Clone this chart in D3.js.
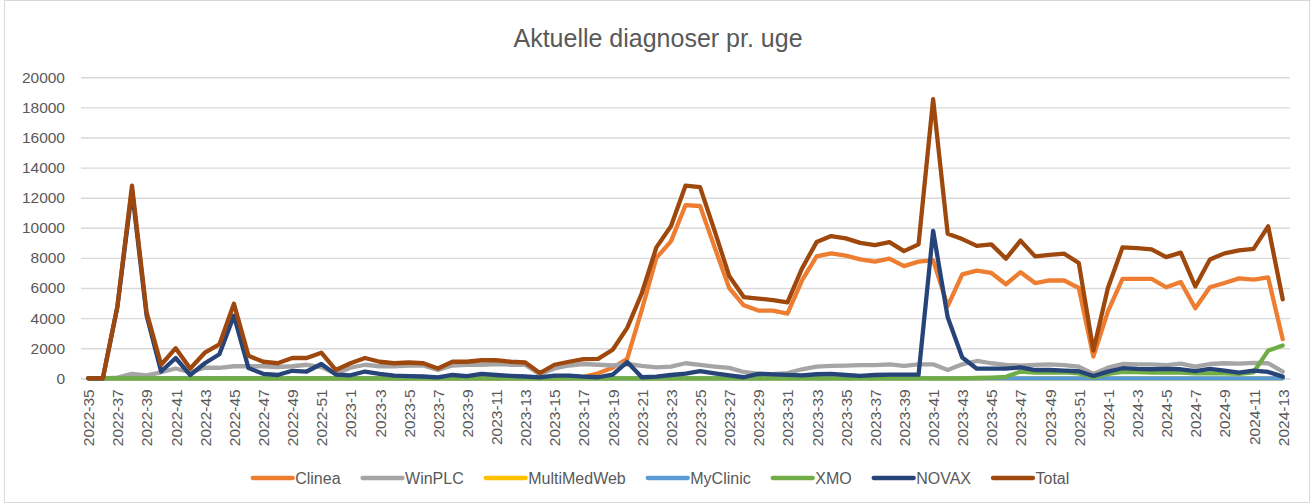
<!DOCTYPE html>
<html><head><meta charset="utf-8">
<script src="https://cdn.jsdelivr.net/npm/d3@7"></script>
<style>
body{margin:0;background:#fff}
svg{display:block}
text{font-family:"Liberation Sans",Arial,sans-serif;fill:#595959}
</style>
</head><body>
<svg id="c" width="1312" height="504"></svg>
<script>
const weeks = ["2022-35","2022-36","2022-37","2022-38","2022-39","2022-40","2022-41","2022-42","2022-43","2022-44","2022-45","2022-46","2022-47","2022-48","2022-49","2022-50","2022-51","2022-52",
"2023-1","2023-2","2023-3","2023-4","2023-5","2023-6","2023-7","2023-8","2023-9","2023-10","2023-11","2023-12","2023-13","2023-14","2023-15","2023-16","2023-17","2023-18","2023-19","2023-20","2023-21","2023-22","2023-23","2023-24","2023-25","2023-26","2023-27","2023-28","2023-29","2023-30","2023-31","2023-32","2023-33","2023-34","2023-35","2023-36","2023-37","2023-38","2023-39","2023-40","2023-41","2023-42","2023-43","2023-44","2023-45","2023-46","2023-47","2023-48","2023-49","2023-50","2023-51","2023-52",
"2024-1","2024-2","2024-3","2024-4","2024-5","2024-6","2024-7","2024-8","2024-9","2024-10","2024-11","2024-12","2024-13"];

const clinea = [
0,0,0,0,0,0,0,0,0,0,0,0,0,0,0,0,0,0,
0,0,0,0,0,0,0,0,0,0,0,0,0,0,0,0,
100,330,700,1300,4550,8000,9100,11500,11450,8700,6000,4850,4500,4500,4300,6500,8100,8300,8150,7900,7750,7950,7450,7750,7850,4800,6900,7150,7000,6250,7050,6330,6500,6500,6000,1450,
4450,6600,6600,6600,6050,6400,4650,6050,6330,6640,6550,6700,2600];

const winplc = [
0,0,50,300,200,400,650,400,700,700,800,800,800,750,800,900,750,300,
700,900,800,800,850,850,550,850,900,900,950,900,900,250,650,850,950,900,850,950,820,730,780,1000,890,780,690,420,300,280,350,600,780,820,840,870,870,930,820,930,930,550,930,1150,1000,890,840,890,930,870,780,290,
710,950,930,930,870,980,780,950,1000,980,1020,1000,440];

const multimedweb = [
0,0,0,0,0,0,0,0,0,0,
0,0,0,0,0,0,0,0,0,0,
0,0,0,0,0,0,0,0,0,0,
0,0,0,0,0,0,0,0,0,0,
0,0,0,0,0,0,0,0,0,0,
0,0,0,0,0,0,0,0,0,0,
0,0,0,0,0,0,0,0,0,0,
0,0,0,0,0,0,0,0,0,0,
0,0,0];

const myclinic = [
0,0,0,0,0,0,0,0,0,0,
0,0,0,0,0,0,0,0,0,0,
0,0,0,0,0,0,0,0,0,0,
0,0,0,0,0,0,0,0,0,0,
0,0,0,0,0,0,0,0,0,0,
0,0,0,0,0,0,0,0,0,0,
0,0,0,0,0,0,0,0,0,0,
0,0,0,0,0,0,0,0,0,0,
0,0,0];

const xmo = [
0,0,0,0,0,0,0,0,0,0,0,0,0,0,0,0,0,0,
0,0,0,0,0,0,0,0,0,0,
0,0,0,0,0,0,0,0,0,0,
0,0,0,0,0,0,0,0,0,0,
0,0,0,0,0,0,0,0,0,0,
0,0,0,
20,50,100,450,380,380,400,330,60,
290,420,420,380,400,380,330,330,330,290,400,1840,2180];

const novax = [
0,0,4750,12500,4200,450,1350,220,1000,1600,4150,680,300,220,500,450,950,250,
200,450,300,180,150,120,60,220,150,290,220,160,120,60,180,180,110,70,250,1080,70,110,220,310,470,330,200,70,300,260,230,200,270,290,220,160,220,240,240,240,9800,4050,1380,640,640,640,730,550,550,510,470,155,
440,670,620,600,620,600,470,620,510,380,510,420,110];

const total = [
0,0,4800,12800,4400,900,2000,650,1700,2250,4950,1500,1100,1000,1350,1350,1700,550,
1000,1350,1100,1000,1050,1000,650,1100,1100,1200,1200,1100,1050,350,900,1100,1280,1290,1900,3350,5650,8700,10100,12800,12700,9800,6800,5400,5300,5200,5050,7300,9050,9450,9300,9000,8850,9050,8450,8900,18550,9600,9250,8800,8900,7950,9150,8100,8200,8280,7660,1850,
6000,8700,8650,8570,8050,8350,6100,7900,8300,8500,8600,10100,5250];

const seriesNames = ["Clinea","WinPLC","MultiMedWeb","MyClinic","XMO","NOVAX","Total"];
const seriesValues = [clinea, winplc, multimedweb, myclinic, xmo, novax, total];
const seriesColors = ["#ED7D31","#A5A5A5","#FFC000","#5B9BD5","#70AD47","#264478","#9E480E"];
const yTicks = [0,2000,4000,6000,8000,10000,12000,14000,16000,18000,20000];
const xTickLabels = weeks.filter((d,i)=>i%2===0);
const titleText = "Aktuelle diagnoser pr. uge";

const svg = d3.select("#c");
svg.append("rect").attr("x",4.5).attr("y",0.5).attr("width",1305).attr("height",502)
  .attr("fill","#fff").attr("stroke","#d9d9d9").attr("stroke-width",1);

const left = 81, right = 1290;
const x = d3.scalePoint().domain(weeks).range([left,right]).padding(0.5);
const y = d3.scaleLinear().domain([0,20000]).range([378.3,77.3]);

// y axis + gridlines
const gy = svg.append("g").attr("transform",`translate(${left},0)`)
  .call(d3.axisLeft(y).tickValues(yTicks).tickSize(-(right-left)).tickPadding(16).tickFormat(d3.format("d")));
gy.select(".domain").remove();
gy.selectAll(".tick line").attr("stroke","#d9d9d9").attr("stroke-width",1.4);
gy.selectAll(".tick text").attr("font-size","15.5px").attr("fill","#595959");

// x axis
const gx = svg.append("g").attr("transform",`translate(0,${y(0)})`)
  .call(d3.axisBottom(x).tickValues(xTickLabels).tickSize(0));
gx.select(".domain").attr("stroke","#d9d9d9").attr("stroke-width",1.4);
gx.selectAll(".tick text")
  .attr("font-size","15.5px").attr("fill","#595959")
  .attr("transform","rotate(-90)")
  .attr("x",-11).attr("y",0).attr("dy","0.35em")
  .style("text-anchor","end");

// lines
const line = d3.line().defined((d,i)=>i<weeks.length).x((d,i)=>x(weeks[i])).y(d=>y(d));
seriesValues.forEach((vals,k)=>{
  svg.append("path").datum(vals)
    .attr("d",line).attr("fill","none")
    .attr("stroke",seriesColors[k]).attr("stroke-width",4.3)
    .attr("stroke-linejoin","round").attr("stroke-linecap","round");
});

// title
svg.append("text").attr("x",658).attr("y",47).attr("text-anchor","middle")
  .attr("font-size","25px").attr("fill","#595959").text(titleText);

// legend
const lg = svg.append("g");
let cx = 0;
const legY = 478;
seriesNames.forEach((name,k)=>{
  const g = lg.append("g");
  g.append("line").attr("x1",cx).attr("x2",cx+40).attr("y1",legY).attr("y2",legY)
    .attr("stroke",seriesColors[k]).attr("stroke-width",4.3).attr("stroke-linecap","round");
  const t = g.append("text").attr("x",cx+42.5).attr("y",legY).attr("dy","0.35em")
    .attr("font-size","16px").attr("fill","#595959").text(name);
  cx += 42.5 + t.node().getComputedTextLength() + 22;
});
const legW = cx - 22;
lg.attr("transform",`translate(${661 - legW/2},0)`);
</script>
</body></html>
